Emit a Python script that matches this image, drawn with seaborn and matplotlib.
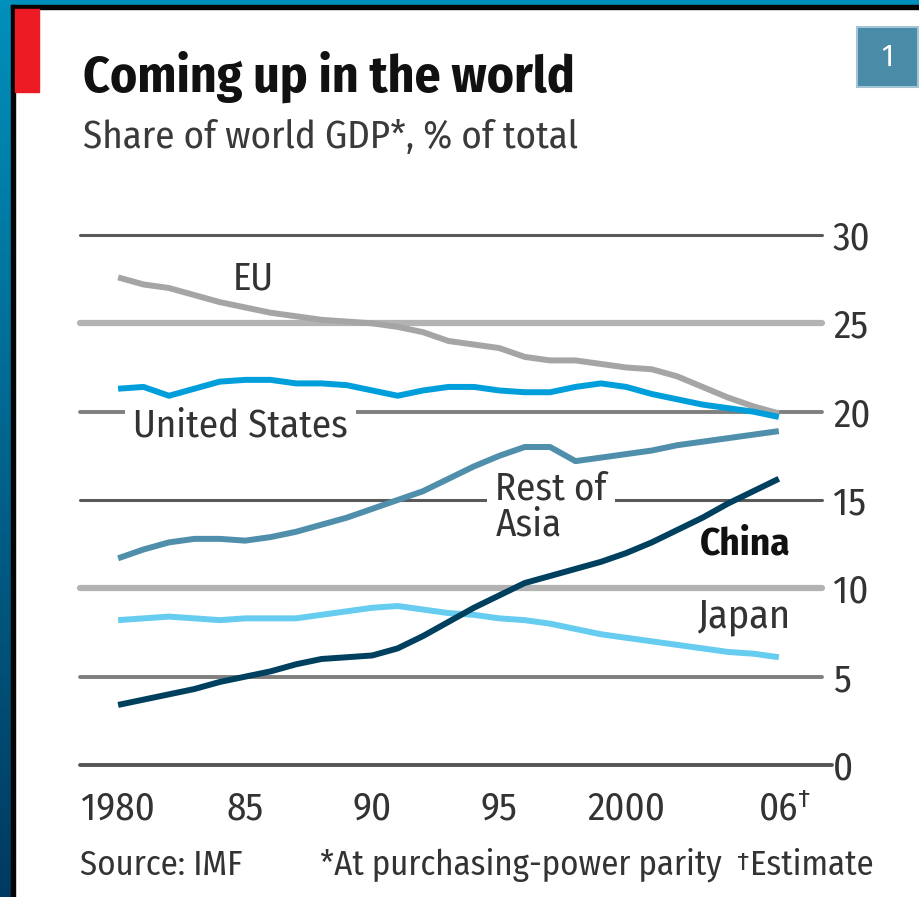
import numpy as np
import pandas as pd
import matplotlib
matplotlib.use("Agg")
import matplotlib.pyplot as plt
import seaborn as sns
from matplotlib.patches import Rectangle
from matplotlib.colors import LinearSegmentedColormap

# share of world GDP (PPP), % of total
years = list(range(1980, 2007))
eu = [27.6, 27.2, 27.0, 26.6, 26.2, 25.9, 25.6, 25.4, 25.2, 25.1, 25.0, 24.8, 24.5,
      24.0, 23.8, 23.6, 23.1, 22.9, 22.9, 22.7, 22.5, 22.4, 22.0, 21.4, 20.8, 20.3, 19.9]
us = [21.3, 21.4, 20.9, 21.3, 21.7, 21.8, 21.8, 21.6, 21.6, 21.5, 21.2, 20.9, 21.2,
      21.4, 21.4, 21.2, 21.1, 21.1, 21.4, 21.6, 21.4, 21.0, 20.7, 20.4, 20.2, 20.0, 19.7]
rest_of_asia = [11.7, 12.2, 12.6, 12.8, 12.8, 12.7, 12.9, 13.2, 13.6, 14.0, 14.5, 15.0, 15.5,
                16.2, 16.9, 17.5, 18.0, 18.0, 17.2, 17.4, 17.6, 17.8, 18.1, 18.3, 18.5, 18.7, 18.9]
japan = [8.2, 8.3, 8.4, 8.3, 8.2, 8.3, 8.3, 8.3, 8.5, 8.7, 8.9, 9.0, 8.8,
         8.6, 8.5, 8.3, 8.2, 8.0, 7.7, 7.4, 7.2, 7.0, 6.8, 6.6, 6.4, 6.3, 6.1]
china = [3.4, 3.7, 4.0, 4.3, 4.7, 5.0, 5.3, 5.7, 6.0, 6.1, 6.2, 6.6, 7.3,
         8.1, 8.9, 9.6, 10.3, 10.7, 11.1, 11.5, 12.0, 12.6, 13.3, 14.0, 14.8, 15.5, 16.2]

series_names = ["EU", "United States", "Rest of Asia", "Japan", "China"]
colours = ["#a5a5a5", "#009fdb", "#4f8fab", "#66ccf0", "#00405f"]

y_ticks = [0, 5, 10, 15, 20, 25, 30]
x_major = [1980, 1985, 1990, 1995, 2000, 2005]
x_major_labels = ["1980", "85", "90", "95", "2000", ""]

df = pd.DataFrame({
    "year": years * len(series_names),
    "share": eu + us + rest_of_asia + japan + china,
    "series": np.repeat(series_names, len(years)),
})

sns.set_style("white")
plt.rcParams["font.family"] = ["Fira Sans Condensed", "DejaVu Sans"]

W, H = 919, 897
fig = plt.figure(figsize=(W / 100, H / 100), dpi=100)
fig.patch.set_facecolor("white")


def fx(px):
    return px / W


def fy(py):
    return 1 - py / H


# frame: blue gradient on the left, blue strip on top, thin black inner edge
grad_ax = fig.add_axes([0, 0, fx(11), 1])
grad = np.linspace(0, 1, 256).reshape(-1, 1)
grad_ax.imshow(grad, aspect="auto", cmap=LinearSegmentedColormap.from_list("frame", ["#0090bb", "#003a60"]))
grad_ax.axis("off")
fig.patches.append(Rectangle((0, fy(5)), 1, 5 / H, transform=fig.transFigure, color="#0090bb", zorder=0))
fig.patches.append(Rectangle((fx(11), fy(9)), 1, 4 / H, transform=fig.transFigure, color="#050505", zorder=0))
fig.patches.append(Rectangle((fx(11), 0), 4 / W, fy(5), transform=fig.transFigure, color="#050505", zorder=0))
# red tab and the chart number box
fig.patches.append(Rectangle((fx(15), fy(92)), 24 / W, 83 / H, transform=fig.transFigure, color="#ed1c24", zorder=0))
fig.patches.append(Rectangle((fx(857), fy(87)), 61 / W, 60 / H, transform=fig.transFigure,
                             facecolor="#4a8ba8", edgecolor="#a3c5d3", lw=1.5, zorder=0))
fig.text(fx(887), fy(57), "1", color="white", fontsize=22, ha="center", va="center")

fig.text(fx(83), fy(92), "Coming up in the world", fontsize=37, fontweight="bold",
         color="#111111", va="baseline")
fig.text(fx(83), fy(148), "Share of world GDP*, % of total", fontsize=28,
         color="#3a3a3a", va="baseline")

ax = fig.add_axes([fx(80), fy(765), 742 / W, 530 / H])
ax.set_facecolor("white")

# horizontal rules
grid_colour = {30: "#5a5a5a", 25: "#b3b3b3", 20: "#7f7f7f", 15: "#5a5a5a", 10: "#b3b3b3", 5: "#7f7f7f"}
grid_width = {30: 2.2, 25: 4.5, 20: 2.8, 15: 2.2, 10: 4.5, 5: 2.8}
for v in [30, 25, 20, 15, 10, 5]:
    ax.axhline(v, color=grid_colour[v], lw=grid_width[v], zorder=1, clip_on=False)
ax.axhline(0, xmin=0, xmax=752 / 742, color="#555555", lw=2.8, zorder=1, clip_on=False)

sns.lineplot(data=df, x="year", y="share", hue="series", palette=dict(zip(series_names, colours)),
             linewidth=4.3, legend=False, ax=ax, zorder=3)
for line in ax.lines:
    if len(line.get_xdata()) > 2:
        line.set_solid_capstyle("butt")
        line.set_solid_joinstyle("round")

ax.set_xlim(1978.5, 2007.7)
ax.set_ylim(0, 30)
sns.despine(ax=ax, left=True, bottom=True)

ax.yaxis.tick_right()
ax.set_yticks(y_ticks)
ax.set_yticklabels([str(v) for v in y_ticks])
ax.tick_params(axis="y", length=0, pad=8, labelsize=28, labelcolor="#333333")

minor = [y for y in years if y % 5 != 0]
ax.set_xticks(x_major)
ax.set_xticklabels(x_major_labels)
ax.set_xticks(minor, labels=["06" if y == 2006 else "" for y in minor], minor=True)
ax.tick_params(axis="x", which="both", direction="in", color="#808080", width=1.8,
               labelsize=28, labelcolor="#333333", pad=18)
ax.tick_params(axis="x", which="major", length=13)
ax.tick_params(axis="x", which="minor", length=6)
ax.annotate("†", xy=(2006, 0), xycoords=("data", "axes fraction"), xytext=(14, -16),
            textcoords="offset points", fontsize=19, color="#333333", ha="left", va="top")
ax.set_xlabel("")
ax.set_ylabel("")

# series labels
box = dict(facecolor="white", edgecolor="none", pad=6)
ax.text(1985.3, 27.5, "EU", fontsize=28, color="#333333", ha="center", va="center", zorder=2)
ax.text(1980.6, 19.2, "United States", fontsize=28, color="#333333", ha="left", va="center",
        bbox=box, zorder=2)
ax.text(1994.85, 14.6, "Rest of\nAsia", fontsize=28, color="#333333", ha="left", va="center",
        linespacing=0.95, bbox=box, zorder=2)
ax.text(2002.9, 12.5, "China", fontsize=28, fontweight="bold", color="#111111", ha="left",
        va="center", zorder=2)
ax.text(2002.8, 8.4, "Japan", fontsize=29, color="#333333", ha="left", va="center", zorder=2)

# footnotes
fig.text(fx(80), fy(875), "Source: IMF", fontsize=25, color="#333333", va="baseline")
fig.text(fx(320), fy(875), "*At purchasing-power parity", fontsize=25, color="#333333", va="baseline")
fig.text(fx(737), fy(870), "†", fontsize=19, color="#333333", va="baseline")
fig.text(fx(750), fy(875), "Estimate", fontsize=25, color="#333333", va="baseline")

fig.savefig("out.png", dpi=100, facecolor=fig.get_facecolor())
